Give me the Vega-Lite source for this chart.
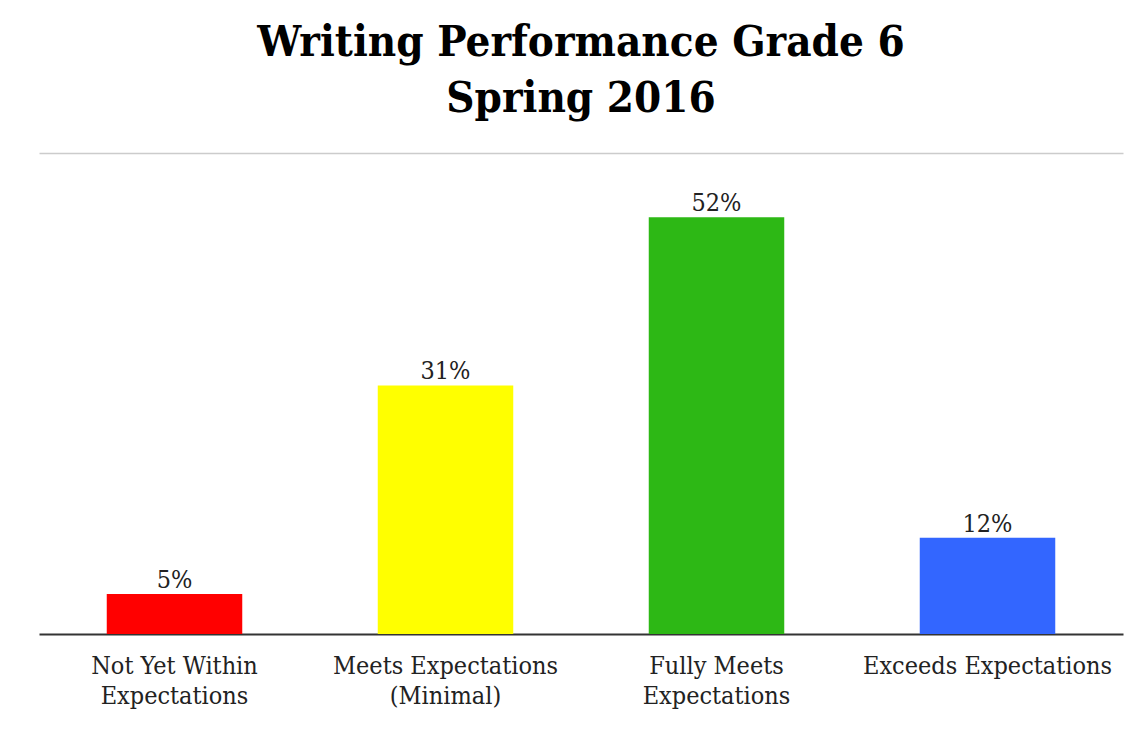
{
  "$schema": "https://vega.github.io/schema/vega-lite/v6.json",
  "width": 1084,
  "height": 481,
  "padding": {"left": 39, "top": 20, "right": 23, "bottom": 5},
  "background": "white",
  "title": {
    "text": ["Writing Performance Grade 6", "Spring 2016"],
    "font": "DejaVu Serif Condensed",
    "fontSize": 43.5,
    "fontWeight": "bold",
    "color": "#000000",
    "lineHeight": 56,
    "anchor": "middle",
    "offset": 32
  },
  "data": {
    "values": [
      {"level": "Not Yet Within|Expectations", "pct": 5, "label": "5%", "order": 1},
      {"level": "Meets Expectations|(Minimal)", "pct": 31, "label": "31%", "order": 2},
      {"level": "Fully Meets|Expectations", "pct": 52, "label": "52%", "order": 3},
      {"level": "Exceeds Expectations", "pct": 12, "label": "12%", "order": 4}
    ]
  },
  "encoding": {
    "x": {
      "field": "level",
      "type": "nominal",
      "sort": {"field": "order"},
      "scale": {"paddingInner": 0.5, "paddingOuter": 0.25},
      "axis": {
        "title": null,
        "labelAngle": 0,
        "labelExpr": "split(datum.label, '|')",
        "labelFont": "DejaVu Serif Condensed",
        "labelFontSize": 25,
        "labelColor": "#222222",
        "labelLineHeight": 30,
        "labelLimit": 400,
        "labelPadding": 19,
        "ticks": false,
        "domain": true,
        "domainColor": "#333333",
        "domainWidth": 2,
        "labelBaseline": "top"
      }
    },
    "y": {
      "field": "pct",
      "type": "quantitative",
      "scale": {"domain": [0, 60]},
      "axis": {
        "title": null,
        "values": [60],
        "labels": false,
        "ticks": false,
        "domain": false,
        "grid": true,
        "gridColor": "#cccccc",
        "gridWidth": 1.5
      }
    }
  },
  "layer": [
    {
      "mark": {"type": "bar"},
      "encoding": {
        "color": {
          "field": "level",
          "type": "nominal",
          "sort": {"field": "order"},
          "scale": {"range": ["#ff0000", "#ffff00", "#2db815", "#3366ff"]},
          "legend": null
        }
      }
    },
    {
      "mark": {
        "type": "text",
        "baseline": "bottom",
        "dy": -1,
        "font": "DejaVu Serif Condensed",
        "fontSize": 25,
        "color": "#222222"
      },
      "encoding": {"text": {"field": "label"}}
    }
  ],
  "config": {"view": {"stroke": null}}
}
